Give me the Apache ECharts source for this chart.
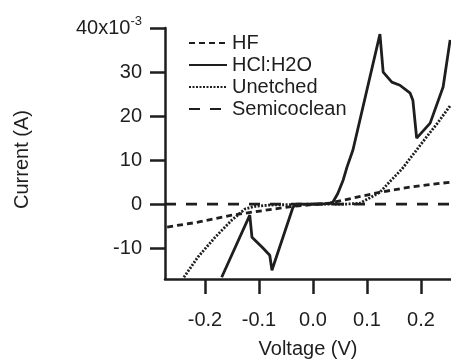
<!DOCTYPE html>
<html>
<head>
<meta charset="utf-8">
<script src="https://cdn.jsdelivr.net/npm/echarts@6/dist/echarts.min.js"></script>
<style>
  html, body { margin: 0; padding: 0; background: #fff; }
  #chart { width: 451px; height: 359px; }
</style>
</head>
<body>
<div id="chart"></div>
<script>
// voltage (V) / current (mA, axis shows x10^-3 A)
const hfV = [-0.27, -0.213, -0.15, -0.089, -0.037, 0.0, 0.03, 0.056, 0.124, 0.18, 0.255];
const hfI = [-5.2, -4.1, -2.5, -1.4, -0.5, -0.1, 0.2, 0.9, 2.7, 3.9, 5.0];

const hclV = [-0.169, -0.117, -0.113, -0.094, -0.080, -0.076, -0.037, -0.03, 0.0, 0.03, 0.037,
  0.046, 0.056, 0.063, 0.074, 0.124, 0.130, 0.146, 0.161, 0.180, 0.185, 0.192, 0.217, 0.241, 0.254];
const hclI = [-16.6, -2.5, -7.5, -9.8, -11.6, -15.0, -0.7, 0, 0, 0.1, 0.5,
  2.4, 5.5, 8.4, 12.3, 38.6, 30.0, 27.7, 27.0, 25.2, 23.6, 15.0, 18.4, 26.6, 37.3];

const unetchedV = [-0.239, -0.213, -0.181, -0.150, -0.126, -0.107, -0.08, 0.0, 0.06, 0.087,
  0.124, 0.143, 0.165, 0.19, 0.21, 0.23, 0.255];
const unetchedI = [-16.6, -12.0, -7.5, -3.6, -1.1, -0.5, -0.2, 0, 0, 0.2,
  2.7, 5.2, 8.0, 12.0, 15.2, 18.3, 22.5];

const semiV = [-0.274, -0.1, 0.0, 0.1, 0.2556];
const semiI = [0, 0, 0, 0, 0];

const xTicks = [-0.2, -0.1, 0.0, 0.1, 0.2];
const yTicks = [-10, 0, 10, 20, 30, 40];

const ink = '#1e1e1e';
const font = 'Liberation Sans';

function pairs(xs, ys) {
  return xs.map((x, i) => [x, ys[i]]);
}

const chart = echarts.init(document.getElementById('chart'));

chart.setOption({
  animation: false,
  textStyle: { fontFamily: font, color: ink },
  grid: { left: 165, top: 28, right: 0, bottom: 80, outerBoundsMode: 'none' },
  legend: {
    orient: 'vertical',
    left: 183,
    top: 28,
    itemWidth: 38,
    itemHeight: 14,
    itemGap: 2,
    selectedMode: false,
    itemStyle: { opacity: 0 },
    textStyle: { fontFamily: font, fontSize: 20, color: ink, lineHeight: 20 },
    data: ['HF', 'HCl:H2O', 'Unetched', 'Semicoclean']
  },
  xAxis: {
    type: 'value',
    min: -0.274,
    max: 0.2556,
    name: 'Voltage (V)',
    nameLocation: 'middle',
    nameGap: 60,
    nameTextStyle: { fontFamily: font, fontSize: 20, color: ink },
    axisLine: { onZero: false, lineStyle: { color: ink, width: 2.5 } },
    axisTick: { customValues: xTicks, length: 15, lineStyle: { color: ink, width: 2.5 } },
    axisLabel: {
      customValues: xTicks,
      margin: 31,
      fontFamily: font,
      fontSize: 20,
      color: ink,
      formatter: (v) => v.toFixed(1)
    },
    splitLine: { show: false }
  },
  yAxis: {
    type: 'value',
    min: -17,
    max: 40,
    name: 'Current (A)',
    nameLocation: 'middle',
    nameGap: 133,
    nameTextStyle: { fontFamily: font, fontSize: 20, color: ink, padding: [0, 12, 0, 0] },
    axisLine: { onZero: false, lineStyle: { color: ink, width: 2.5 } },
    axisTick: { customValues: yTicks, length: 15, lineStyle: { color: ink, width: 2.5 } },
    axisLabel: {
      customValues: yTicks,
      margin: 23,
      fontFamily: font,
      fontSize: 20,
      color: ink,
      formatter: (v) => (v === 40 ? '{a|40x10}{b|-3}' : String(v)),
      rich: {
        a: { fontFamily: font, fontSize: 20, color: ink },
        b: { fontFamily: font, fontSize: 13, color: ink, padding: [0, 0, 14, 0] }
      }
    },
    splitLine: { show: false }
  },
  series: [
    {
      name: 'HF',
      type: 'line',
      symbol: 'none',
      data: pairs(hfV, hfI),
      lineStyle: { color: ink, width: 2.8, type: [6, 4] },
      itemStyle: { color: ink }
    },
    {
      name: 'HCl:H2O',
      type: 'line',
      symbol: 'none',
      data: pairs(hclV, hclI),
      lineStyle: { color: ink, width: 2.8 },
      itemStyle: { color: ink }
    },
    {
      name: 'Unetched',
      type: 'line',
      symbol: 'none',
      data: pairs(unetchedV, unetchedI),
      lineStyle: { color: ink, width: 2.8, type: [2, 1.5] },
      itemStyle: { color: ink }
    },
    {
      name: 'Semicoclean',
      type: 'line',
      symbol: 'none',
      data: pairs(semiV, semiI),
      lineStyle: { color: ink, width: 2.8, type: [11, 10] },
      itemStyle: { color: ink }
    }
  ]
});
</script>
</body>
</html>
